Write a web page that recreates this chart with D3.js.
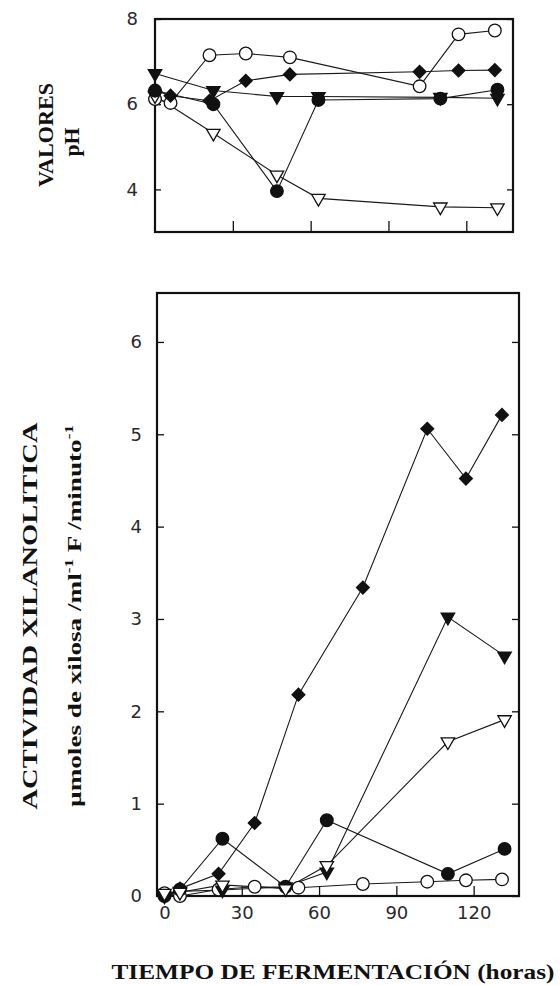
<!DOCTYPE html>
<html><head><meta charset="utf-8">
<script src="https://cdn.jsdelivr.net/npm/d3@7"></script>
<style>body{margin:0;background:#fff}svg{display:block}</style>
</head><body>
<script>
// ---- data ----
const phTimesA = [0, 6, 21, 35, 52, 102, 117, 131];          // ◆ and ○ samples (h)
const phOpenCircle = [6.12, 6.03, 7.15, 7.19, 7.10, 6.42, 7.64, 7.73];
const phDiamond   = [6.32, 6.20, 6.08, 6.55, 6.70, 6.76, 6.79, 6.80];
const phTimesB = [0, 22.5, 47, 63, 110, 132];                 // ●, ▼, ▽ samples (h)
const phFilledCircle = [6.32, 6.00, 3.96, 6.10, 6.13, 6.34];
const phFilledTri    = [6.72, 6.32, 6.18, 6.18, 6.16, 6.14];
const phOpenTri      = [6.20, 5.32, 4.34, 3.79, 3.59, 3.57];

const actTimesA = [0, 6, 21, 35, 52, 77, 102, 117, 131];      // ◆ and ○
const actDiamond    = [0.00, 0.08, 0.24, 0.79, 2.18, 3.34, 5.06, 4.52, 5.21];
const actOpenCircle = [0.03, 0.00, 0.07, 0.10, 0.09, 0.13, 0.155, 0.17, 0.18];
const actTimesB = [0, 6, 22.5, 47, 63, 110, 132];             // ●, ▼, ▽
const actFilledCircle = [0.00, 0.07, 0.62, 0.10, 0.82, 0.24, 0.51];
const actFilledTri    = [0.00, 0.05, 0.065, 0.10, 0.26, 3.02, 2.60];
const actOpenTri      = [0.03, 0.04, 0.12, 0.08, 0.33, 1.67, 1.91];

const phTicks = [4, 6, 8];
const actTicks = [0, 1, 2, 3, 4, 5, 6];
const timeTicks = [0, 30, 60, 90, 120];

// ---- layout ----
const svg = d3.select("body").append("svg").attr("width", 560).attr("height", 985);
const xTop = d3.scaleLinear([0, 138], [155, 513]);
const yTop = d3.scaleLinear([3, 8], [232, 19]);
const xBot = d3.scaleLinear([-2.9, 137.6], [157, 519]);
const yBot = d3.scaleLinear([0, 6.53], [896, 293]);

const fmt = d3.format("d");
const tickFont = g => g.selectAll("text").attr("font-family", "DejaVu Sans, sans-serif")
  .attr("font-size", 18).attr("fill", "#2a2a2a");
const clean = g => { g.select(".domain").remove(); g.selectAll("line").attr("stroke", "#111").attr("stroke-width", 1.3); };

function panel(x, y, yTicks, timeLabels, tickLenY, tickLenX, padY) {
  const [x0, x1] = x.range(), [y0, y1] = y.range();
  svg.append("g").attr("transform", `translate(${x0},0)`)
    .call(d3.axisLeft(y).tickValues(yTicks).tickSize(-tickLenY).tickPadding(padY).tickFormat(fmt)).call(clean).call(tickFont);
  svg.append("g").attr("transform", `translate(${x1},0)`)
    .call(d3.axisRight(y).tickValues(yTicks).tickSize(-tickLenY).tickFormat("")).call(clean);
  const bx = svg.append("g").attr("transform", `translate(0,${y0})`)
    .call(d3.axisBottom(x).tickValues(timeLabels ? timeTicks : timeTicks.slice(1)).tickSize(-tickLenX).tickPadding(10)
      .tickFormat(timeLabels ? fmt : ""))
    .call(clean).call(tickFont);
  bx.selectAll(".tick").filter(d => d === 0).select("line").remove();
  svg.append("rect").attr("x", x0).attr("y", y1).attr("width", x1 - x0).attr("height", y0 - y1)
    .attr("fill", "none").attr("stroke", "#111").attr("stroke-width", 2.2);
}

function series(x, y, times, vals) {
  const pts = times.map((t, i) => [x(t), y(vals[i])]);
  svg.append("path").attr("d", d3.line()(pts)).attr("fill", "none").attr("stroke", "#1a1a1a").attr("stroke-width", 1.1);
  return pts;
}
function markers(pts, kind) {
  const filled = kind.startsWith("f");
  let sym, size, rot = 0;
  if (kind.endsWith("circle")) { sym = d3.symbolCircle; size = 125; }
  else if (kind.endsWith("diamond")) { sym = d3.symbolSquare; size = 82; rot = 45; }
  else { sym = d3.symbolTriangle; size = 78; rot = 180; }
  svg.append("g").selectAll("path").data(pts).join("path")
    .attr("transform", d => `translate(${d[0]},${d[1]}) rotate(${rot})`)
    .attr("d", d3.symbol(sym, size))
    .attr("fill", filled ? "#111" : "#fff").attr("stroke", "#111").attr("stroke-width", 1.3);
}

// top panel (pH)
panel(xTop, yTop, phTicks, false, 6, 11, 17);
const tp = [
  [series(xTop, yTop, phTimesA, phOpenCircle), "o-circle"],
  [series(xTop, yTop, phTimesB, phOpenTri), "o-tri"],
  [series(xTop, yTop, phTimesA, phDiamond), "f-diamond"],
  [series(xTop, yTop, phTimesB, phFilledCircle), "f-circle"],
  [series(xTop, yTop, phTimesB, phFilledTri), "f-tri"]];
tp.forEach(([p, k]) => markers(p, k));

// bottom panel (activity)
panel(xBot, yBot, actTicks, true, 7, 10, 15);
const bp = [
  [series(xBot, yBot, actTimesA, actOpenCircle), "o-circle"],
  [series(xBot, yBot, actTimesB, actFilledCircle), "f-circle"],
  [series(xBot, yBot, actTimesA, actDiamond), "f-diamond"],
  [series(xBot, yBot, actTimesB, actFilledTri), "f-tri"],
  [series(xBot, yBot, actTimesB, actOpenTri), "o-tri"]];
bp.forEach(([p, k]) => markers(p, k));

// titles
const serif = "Liberation Serif, Times New Roman, serif";
function vtext(x, y, str, size, len) {
  return svg.append("text").attr("transform", `translate(${x},${y}) rotate(-90)`)
    .attr("text-anchor", "middle").attr("font-family", serif).attr("font-weight", "bold")
    .attr("font-size", size).attr("fill", "#111").attr("textLength", len).attr("lengthAdjust", "spacingAndGlyphs").text(str);
}
vtext(53, 135, "VALORES", 20, 104);
vtext(79, 142, "pH", 20, 29);
vtext(37, 616, "ACTIVIDAD XILANOLITICA", 21, 387);
const u = svg.append("text").attr("transform", "translate(81,616) rotate(-90)")
  .attr("text-anchor", "middle").attr("font-family", serif).attr("font-weight", "bold")
  .attr("font-size", 19).attr("fill", "#111").attr("textLength", 382).attr("lengthAdjust", "spacingAndGlyphs");
u.append("tspan").text("µmoles de xilosa /ml");
u.append("tspan").attr("font-size", 12).attr("dy", -8).text("-1");
u.append("tspan").attr("dy", 8).text(" F /minuto");
u.append("tspan").attr("font-size", 12).attr("dy", -8).text("-1");
svg.append("text").attr("x", 333).attr("y", 979).attr("text-anchor", "middle")
  .attr("font-family", serif).attr("font-weight", "bold").attr("font-size", 22).attr("fill", "#111")
  .attr("textLength", 443).attr("lengthAdjust", "spacingAndGlyphs").text("TIEMPO DE FERMENTACIÓN (horas)");
</script>
</body></html>
